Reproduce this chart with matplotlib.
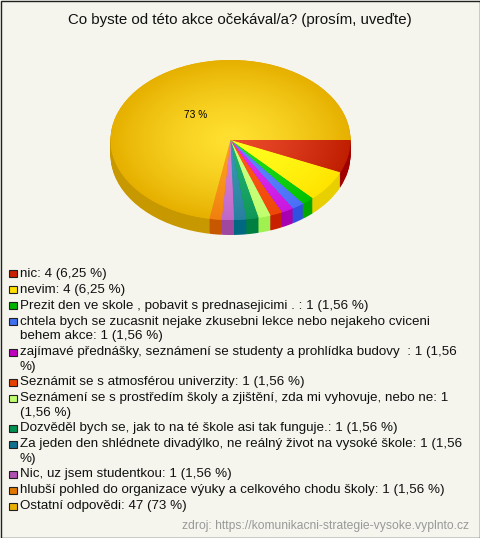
import numpy as np
import matplotlib
matplotlib.use("Agg")
import matplotlib.pyplot as plt
from matplotlib.colors import to_rgb
from matplotlib.patches import Rectangle

plt.rcParams['font.family'] = ['Liberation Sans', 'DejaVu Sans']

title = "Co byste od této akce očekával/a? (prosím, uveďte)"
source = "zdroj: https://komunikacni-strategie-vysoke.vyplnto.cz"
drawn_degrees = [23.9, 22.9, 5.93, 5.93, 5.93, 5.93, 5.93, 5.93, 5.93, 5.93, 5.93, 259.83]
legend_lines = [
    ["nic: 4 (6,25 %)"],
    ["nevim: 4 (6,25 %)"],
    ["Prezit den ve skole , pobavit s prednasejicimi . : 1 (1,56 %)"],
    ["chtela bych se zucasnit nejake zkusebni lekce nebo nejakeho cviceni", "behem akce: 1 (1,56 %)"],
    ["zajímavé přednášky, seznámení se studenty a prohlídka budovy  : 1 (1,56", "%)"],
    ["Seznámit se s atmosférou univerzity: 1 (1,56 %)"],
    ["Seznámení se s prostředím školy a zjištění, zda mi vyhovuje, nebo ne: 1", "(1,56 %)"],
    ["Dozvěděl bych se, jak to na té škole asi tak funguje.: 1 (1,56 %)"],
    ["Za jeden den shlédnete divadýlko, ne reálný život na vysoké škole: 1 (1,56", "%)"],
    ["Nic, uz jsem studentkou: 1 (1,56 %)"],
    ["hlubší pohled do organizace výuky a celkového chodu školy: 1 (1,56 %)"],
    ["Ostatní odpovědi: 47 (73 %)"],
]
legend_colors = ["#c82000", "#ffe000", "#00b400", "#4070f0", "#c000c0", "#e84000",
                 "#c0ff70", "#009050", "#107090", "#b050b0", "#e07800", "#e8b000"]
center_colors = ["#ea4a2a", "#ffff20", "#20e020", "#6088ff", "#e030f0", "#ff5a18",
                 "#ccff80", "#20b070", "#3898b0", "#d880d8", "#ffa020", "#ffe030"]
rim_colors = ["#bf1e00", "#ffe400", "#00c000", "#4a70f8", "#c818e0", "#ee4808",
              "#c0ff70", "#109858", "#2880a0", "#c068c8", "#f08010", "#e6b000"]
side_colors = ["#a00000", "#e8d000", "#00a800", "#3050e0", "#a800b0", "#c82000",
               "#a0f050", "#008040", "#006880", "#a048a0", "#c85800", "#c89800"]
pie_label = "73 %"

W, H = 480, 538
BG = "#f5f5ee"
fig = plt.figure(figsize=(W / 100, H / 100), dpi=100, facecolor=BG)

# pie axes, in pixels: centre (230.5,140), radii 120x80, wall depth 15
depth = 15 / 80
ax = fig.add_axes([110.5 / W, 1 - 236 / H, 240 / W, 176 / H])
for off in np.linspace(depth, 0.0125, 16):
    ax.pie(drawn_degrees, colors=side_colors, startangle=0, counterclock=False,
           center=(0, -off), wedgeprops={"linewidth": 0})
wedges, _ = ax.pie(drawn_degrees, colors=rim_colors, startangle=0, counterclock=False,
                   center=(0, 0), wedgeprops={"linewidth": 0})

xx, yy = np.meshgrid(np.linspace(-1, 1, 480), np.linspace(-1, 1, 320))
rr = np.clip(np.hypot(xx, yy), 0, 1)[..., None] ** 1.4
for w, c0, c1 in zip(wedges, center_colors, rim_colors):
    img = np.array(to_rgb(c0)) * (1 - rr) + np.array(to_rgb(c1)) * rr
    im = ax.imshow(img, extent=(-1, 1, -1, 1), origin="lower", zorder=3, interpolation="bilinear")
    im.set_clip_path(w)
ax.set_aspect("auto")
ax.set_xlim(-1, 1)
ax.set_ylim(-1 - 16 / 80, 1)
ax.axis("off")

# overlay in pixel units for texts and legend
ov = fig.add_axes([0, 0, 1, 1], facecolor="none")
ov.set_xlim(0, W)
ov.set_ylim(H, 0)
ov.axis("off")
ov.add_patch(Rectangle((0.5, 0.5), W - 1, H - 1, fill=False, ec="#202020", lw=1))
ov.text(239.5, 20, title, ha="center", va="center", fontsize=10.85, color="#101010")
ov.text(195.5, 115.5, pie_label, ha="center", va="center", fontsize=7.3, color="#000000")

rows = [273.5, 289.5, 305.5, 321.5, 352.5, 382.5, 398.5, 428.5, 444.5, 474.5, 490.5, 506.5]
LINE = 14.8
for lines, col, y in zip(legend_lines, legend_colors, rows):
    ov.add_patch(Rectangle((9, y - 4), 7.5, 7.5, fc=col, ec="#202020", lw=0.8))
    for i, s in enumerate(lines):
        ov.text(20, y + i * LINE, s, ha="left", va="center", fontsize=9.65, color="#101010")
ov.text(469, 526, source, ha="right", va="center", fontsize=8.75, color="#999999")

fig.savefig("out.png", dpi=100, facecolor=BG)
